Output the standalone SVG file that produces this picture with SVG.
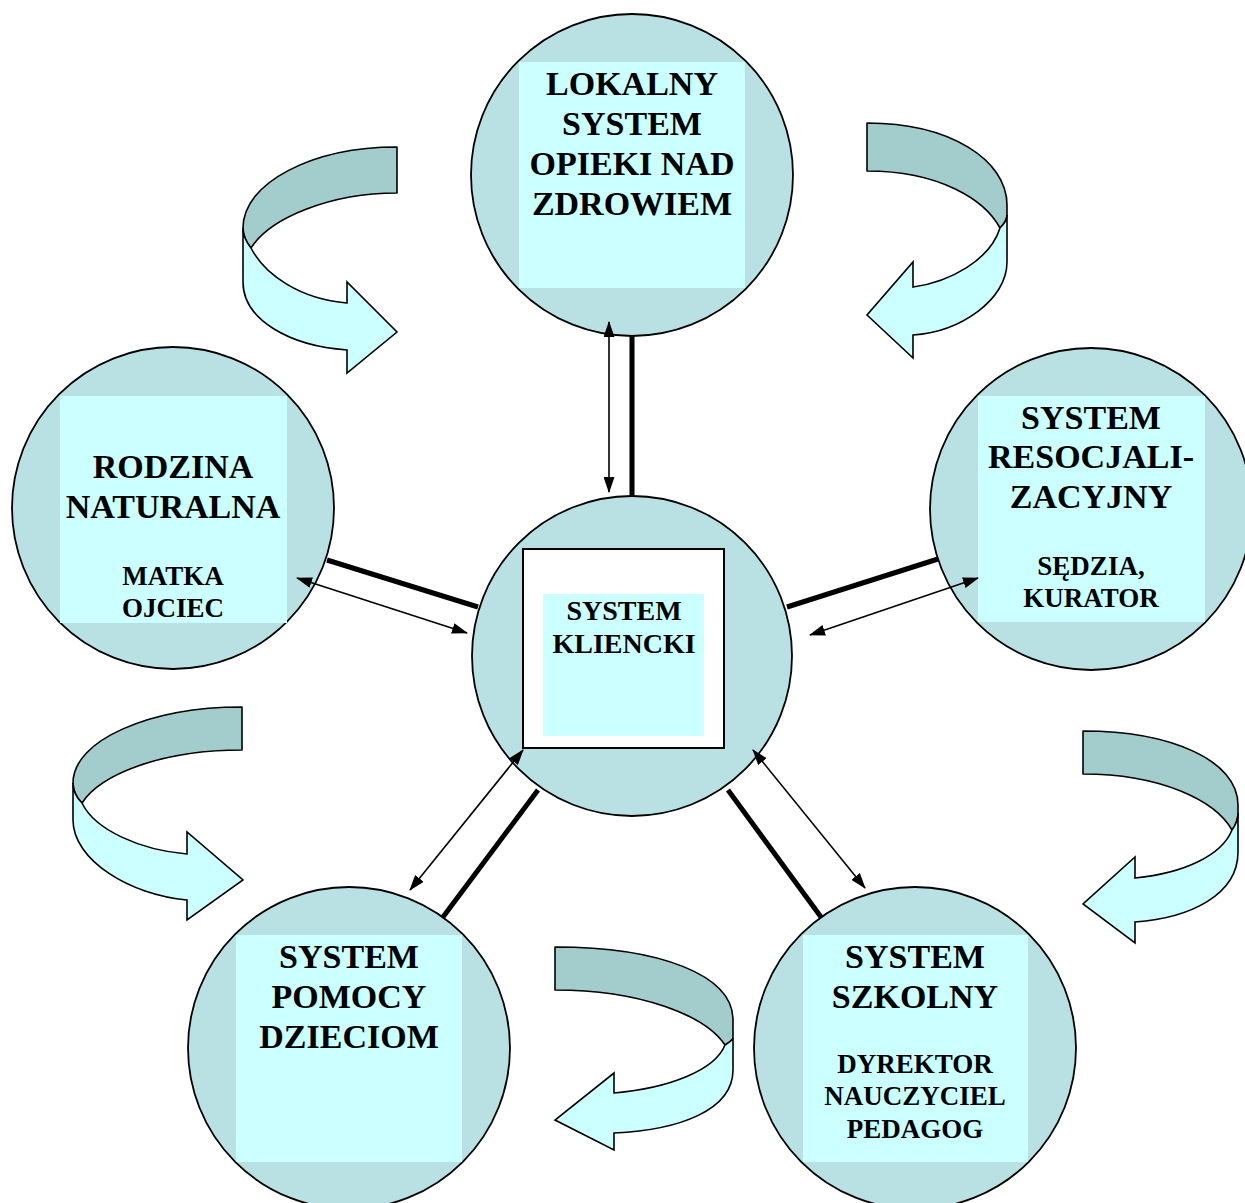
<svg xmlns="http://www.w3.org/2000/svg" width="1245" height="1203" viewBox="0 0 1245 1203">
<defs>
<style>
.circ{fill:#B9E0E3;stroke:#000;stroke-width:1.8}
.panel{fill:#CCFFFF}
.t{font-family:"Liberation Serif","Times New Roman",serif;font-weight:bold;text-anchor:middle;fill:#000}
.big{font-size:34px}
.small{font-size:27px}
.mid{font-size:28px}
.dark{fill:#A3CCCC;stroke:#000;stroke-width:1.6;stroke-linejoin:round}
.light{fill:#CCFFFF;stroke:#000;stroke-width:1.6;stroke-linejoin:miter}
.thick{stroke:#000;stroke-width:5;fill:none}
.thin{stroke:#000;stroke-width:1.6;fill:none;marker-start:url(#ah);marker-end:url(#ah)}
</style>
<marker id="ah" viewBox="0 0 16 11" refX="15" refY="5.5" markerWidth="16" markerHeight="11" markerUnits="userSpaceOnUse" orient="auto-start-reverse">
<path d="M0,0 L16,5.5 L0,11 Z" fill="#000"/>
</marker>
</defs>
<rect width="1245" height="1203" fill="#fff"/>

<g id="curved-arrows">
<g id="arrow-top-left">
<path class="dark" d="M397,147 C312,147 243,183 243,228 C243,236 247,243 251,248 C270,218 330,193 397,193 Z"/>
<path class="light" d="M243,228 L243,282 C243,320 290,346 347,350 L347,373 L397,332 L347,282 L347,303 C300,299 265,275 251,248 C247,243 243,236 243,228 Z"/>
</g>
<g id="arrow-top-right">
<path class="dark" d="M867,123 C950,123 1007,160 1007,205 L1007,215 C1007,220 1003,225 1000,228 C985,200 940,171 867,171 Z"/>
<path class="light" d="M1007,215 L1007,262 C1007,300 960,332 913,335 L913,358 L867,315 L913,262 L913,287 C950,282 990,260 1000,228 C1003,225 1007,220 1007,215 Z"/>
</g>
<g id="arrow-bottom-left">
<path class="dark" d="M242,707 C150,707 73,740 73,783 C73,790 77,798 82,803 C100,775 160,750 242,750 Z"/>
<path class="light" d="M73,783 L73,820 C73,860 130,895 187,900 L187,920 L243,880 L187,832 L187,854 C140,850 95,830 82,803 C77,798 73,790 73,783 Z"/>
</g>
<g id="arrow-right">
<path class="dark" d="M1083,731 C1170,731 1238,760 1238,805 L1238,813 C1238,820 1235,826 1232,830 C1215,800 1160,774 1083,774 Z"/>
<path class="light" d="M1238,813 L1238,852 C1238,895 1190,918 1135,922 L1135,943 L1083,904 L1135,857 L1135,878 C1185,873 1222,855 1232,830 C1235,826 1238,820 1238,813 Z"/>
</g>
<g id="arrow-bottom-middle">
<path class="dark" d="M555,947 C660,947 733,975 733,1020 L733,1038 C733,1040 728,1043 725,1045 C705,1015 640,990 555,990 Z"/>
<path class="light" d="M733,1038 L733,1070 C733,1110 680,1130 614,1133 L614,1150 L555,1120 L614,1073 L614,1093 C670,1088 715,1070 725,1045 C728,1043 733,1040 733,1038 Z"/>
</g>
</g>

<g id="node-lokalny">
<circle class="circ" cx="632" cy="175" r="161"/>
<rect class="panel" x="519" y="62" width="226" height="226"/>
<text class="t big" x="632" y="95">LOKALNY</text>
<text class="t big" x="632" y="135">SYSTEM</text>
<text class="t big" x="632" y="175">OPIEKI NAD</text>
<text class="t big" x="632" y="215">ZDROWIEM</text>
</g>

<g id="node-rodzina">
<circle class="circ" cx="173" cy="508" r="161"/>
<rect class="panel" x="60" y="396" width="227" height="227"/>
<text class="t big" x="173" y="478">RODZINA</text>
<text class="t big" x="173" y="518">NATURALNA</text>
<text class="t small" x="173" y="585">MATKA</text>
<text class="t small" x="173" y="617">OJCIEC</text>
</g>

<g id="node-resocjalizacyjny">
<circle class="circ" cx="1091" cy="509" r="161"/>
<rect class="panel" x="978" y="396" width="227" height="226"/>
<text class="t big" x="1091" y="429">SYSTEM</text>
<text class="t big" x="1091" y="468">RESOCJALI-</text>
<text class="t big" x="1091" y="508">ZACYJNY</text>
<text class="t small" x="1091" y="575">SĘDZIA,</text>
<text class="t small" x="1091" y="607">KURATOR</text>
</g>

<g id="node-pomocy">
<circle class="circ" cx="349" cy="1048" r="161"/>
<rect class="panel" x="236" y="935" width="226" height="227"/>
<text class="t big" x="349" y="968">SYSTEM</text>
<text class="t big" x="349" y="1008">POMOCY</text>
<text class="t big" x="349" y="1048">DZIECIOM</text>
</g>

<g id="node-szkolny">
<circle class="circ" cx="915" cy="1048" r="161"/>
<rect class="panel" x="803" y="935" width="225" height="227"/>
<text class="t big" x="915" y="968">SYSTEM</text>
<text class="t big" x="915" y="1008">SZKOLNY</text>
<text class="t small" x="915" y="1073">DYREKTOR</text>
<text class="t small" x="915" y="1105">NAUCZYCIEL</text>
<text class="t small" x="915" y="1138">PEDAGOG</text>
</g>

<g id="node-klient">
<circle class="circ" cx="632" cy="656" r="160"/>
<rect x="523" y="549" width="201" height="199" fill="#fff" stroke="#000" stroke-width="2"/>
<rect class="panel" x="543" y="594" width="161" height="142"/>
<text class="t mid" x="624" y="620">SYSTEM</text>
<text class="t mid" x="624" y="653">KLIENCKI</text>
</g>

<g id="connectors">
<line class="thick" x1="632" y1="336" x2="632" y2="497"/>
<line class="thin" x1="609" y1="322" x2="609" y2="492"/>
<line class="thick" x1="327" y1="560" x2="478" y2="607"/>
<line class="thin" x1="297" y1="578" x2="467" y2="633"/>
<line class="thick" x1="787" y1="607" x2="938" y2="559"/>
<line class="thin" x1="810" y1="635" x2="978" y2="578"/>
<line class="thick" x1="538" y1="790" x2="443" y2="917"/>
<line class="thin" x1="523" y1="750" x2="410" y2="890"/>
<line class="thick" x1="728" y1="790" x2="821" y2="917"/>
<line class="thin" x1="753" y1="750" x2="865" y2="888"/>
</g>
</svg>
